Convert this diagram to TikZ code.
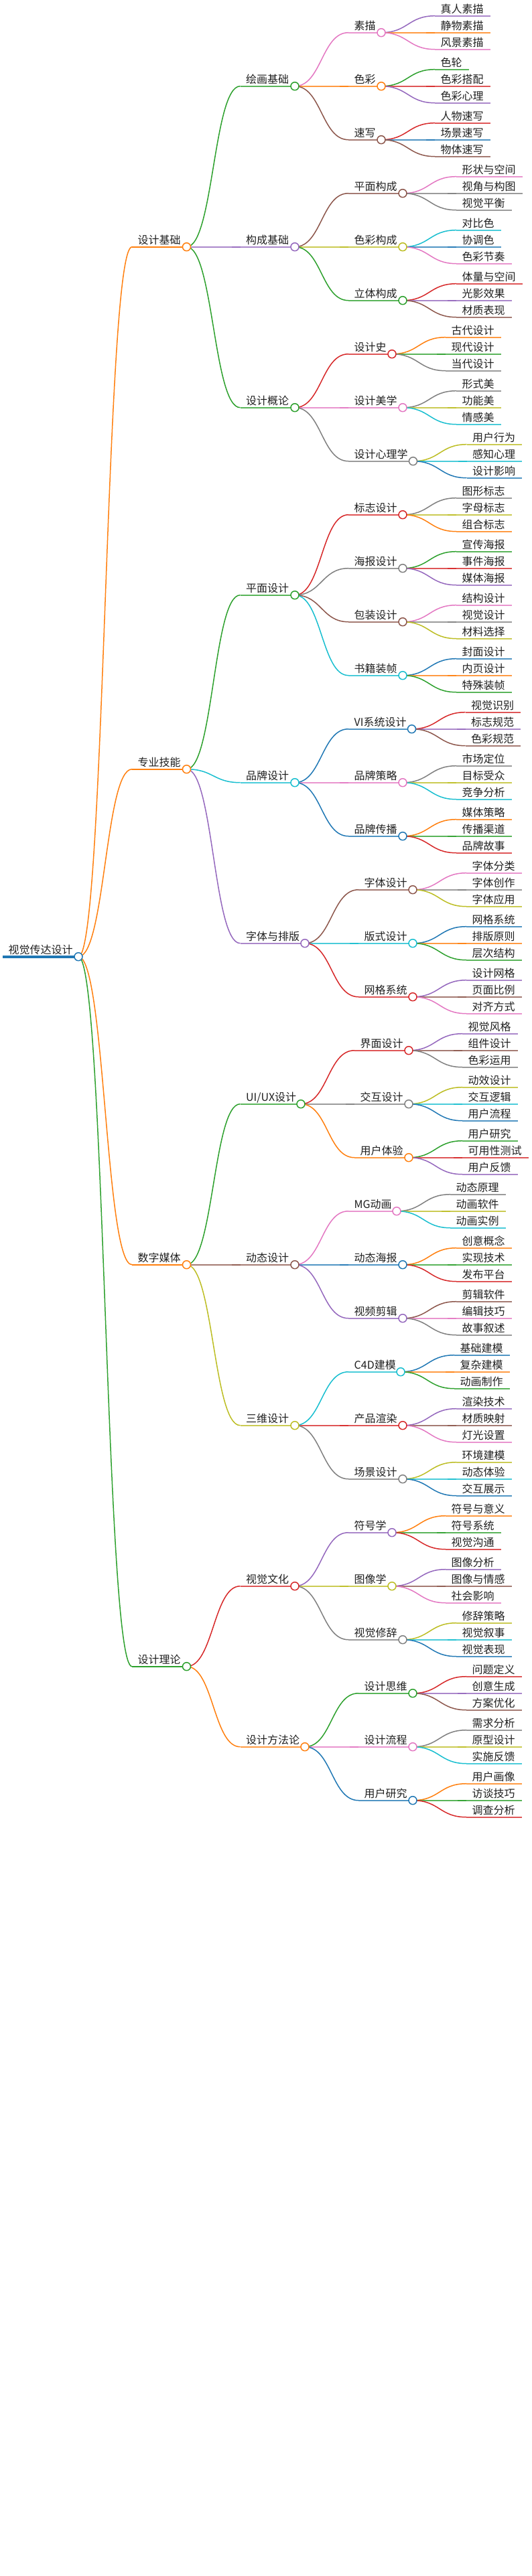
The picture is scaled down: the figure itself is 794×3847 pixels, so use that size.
\documentclass[tikz,border=0pt]{standalone}
\usepackage{fontspec}
\setmainfont{Noto Sans CJK SC}
\usetikzlibrary{calc}
\definecolor{mB}{HTML}{1F77B4}
\definecolor{mO}{HTML}{FF7F0E}
\definecolor{mG}{HTML}{2CA02C}
\definecolor{mR}{HTML}{D62728}
\definecolor{mP}{HTML}{9467BD}
\definecolor{mN}{HTML}{8C564B}
\definecolor{mK}{HTML}{E377C2}
\definecolor{mY}{HTML}{7F7F7F}
\definecolor{mL}{HTML}{BCBD22}
\definecolor{mC}{HTML}{17BECF}
\pgfdeclarelayer{bg}
\pgfsetlayers{bg,main}
\tikzset{
  mmline/.style={line width=1.6pt,opacity=.78},
  mmlineone/.style={line width=1.9pt},
  mmflat/.style={line width=1.6pt,opacity=.78},
  mmlink/.style={line width=1.5pt},
  mmdot/.style={circle,draw,fill=white,minimum size=12pt,inner sep=0pt,outer sep=0pt,line width=1.5pt},
  mmtext/.style={anchor=base west,inner sep=0pt,outer sep=0pt,text=black!88,font=\fontsize{16}{16}\selectfont},
}
\newcommand{\mmbase}[7]{%
  \pgfmathsetmacro{\mmX}{\csname mmE@#3\endcsname+80}%
  \pgfmathsetmacro{\mmEnd}{\mmX+#5}%
  \expandafter\xdef\csname mmE@#2\endcsname{\mmEnd}%
  \expandafter\xdef\csname mmY@#2\endcsname{#4}%
  \coordinate (#2-s) at (\mmX,#4);
  \coordinate (#2-e) at (\mmEnd,#4);
  \coordinate (#2-m) at ($(#3-e)!.5!(#2-s)$);
  \begin{pgfonlayer}{bg}
    \ifdim\csname mmY@#3\endcsname pt=#4pt
      \draw[mmflat,#6] (#3-e) -- (#2-s);
      \draw[mmflat,#6] ($(#2-s)+(-12.7,0)$) -- (#2-s);
    \else
      \draw[mmlink,#6] (#3-e) .. controls (#2-m |- #3-e) and (#2-m |- #2-s) .. (#2-s);
    \fi
    \draw[#1,#6] (#2-s) -- (#2-e);
  \end{pgfonlayer}
  \node[mmtext] (#2) at ($(#2-s)+(8.7,-4)$) {#7};
}
\newcommand{\mmin}[7][mmline]{%
  \mmbase{#1}{#2}{#3}{#4}{#5}{#6}{#7}%
  \node[#6,mmdot] (#2-c) at (#2-e) {};
}
\newcommand{\mmlf}[6]{\mmbase{mmline}{#1}{#2}{#3}{#4}{#5}{#6}}
\begin{document}
\begin{tikzpicture}[x=1pt,y=-1pt]
\useasboundingbox (0,0) rectangle (794,3847);
\expandafter\gdef\csname mmE@R\endcsname{117}
\expandafter\gdef\csname mmY@R\endcsname{1428.7}
\coordinate (R-s) at (4,1428.7);
\coordinate (R-e) at (117,1428.7);
\begin{pgfonlayer}{bg}\draw[mB,line width=4pt] (R-s) -- (R-e);\end{pgfonlayer}
\node[mB,mmdot] (R-c) at (R-e) {};
\node[mmtext] (R) at (12.7,1424.7) {视觉传达设计};
% ---- 设计基础
\mmin[mmlineone]{A}{R}{368.7}{81.5}{mO}{设计基础}
\mmin{AA}{A}{128.7}{81.5}{mG}{绘画基础}
\mmin{AAA}{AA}{48.7}{49}{mK}{素描}
\mmlf{AAAa}{AAA}{23.7}{82.5}{mP}{真人素描}
\mmlf{AAAb}{AAA}{48.7}{82.5}{mO}{静物素描}
\mmlf{AAAc}{AAA}{73.7}{82.5}{mK}{风景素描}
\mmin{AAB}{AA}{128.7}{49}{mO}{色彩}
\mmlf{AABa}{AAB}{103.7}{50.5}{mG}{色轮}
\mmlf{AABb}{AAB}{128.7}{82.5}{mR}{色彩搭配}
\mmlf{AABc}{AAB}{153.7}{82.5}{mP}{色彩心理}
\mmin{AAC}{AA}{208.7}{49}{mN}{速写}
\mmlf{AACa}{AAC}{183.7}{82.5}{mR}{人物速写}
\mmlf{AACb}{AAC}{208.7}{82.5}{mB}{场景速写}
\mmlf{AACc}{AAC}{233.7}{82.5}{mN}{物体速写}
\mmin{AB}{A}{368.7}{81.5}{mP}{构成基础}
\mmin{ABA}{AB}{288.7}{81}{mN}{平面构成}
\mmlf{ABAa}{ABA}{263.7}{98.5}{mK}{形状与空间}
\mmlf{ABAb}{ABA}{288.7}{98.5}{mY}{视角与构图}
\mmlf{ABAc}{ABA}{313.7}{82.5}{mY}{视觉平衡}
\mmin{ABB}{AB}{368.7}{81}{mL}{色彩构成}
\mmlf{ABBa}{ABB}{343.7}{66.5}{mC}{对比色}
\mmlf{ABBb}{ABB}{368.7}{66.5}{mB}{协调色}
\mmlf{ABBc}{ABB}{393.7}{82.5}{mK}{色彩节奏}
\mmin{ABC}{AB}{448.7}{81}{mG}{立体构成}
\mmlf{ABCa}{ABC}{423.7}{98.5}{mR}{体量与空间}
\mmlf{ABCb}{ABC}{448.7}{82.5}{mP}{光影效果}
\mmlf{ABCc}{ABC}{473.7}{82.5}{mN}{材质表现}
\mmin{AC}{A}{608.7}{81.5}{mG}{设计概论}
\mmin{ACA}{AC}{528.7}{65}{mR}{设计史}
\mmlf{ACAa}{ACA}{503.7}{82.5}{mO}{古代设计}
\mmlf{ACAb}{ACA}{528.7}{82.5}{mG}{现代设计}
\mmlf{ACAc}{ACA}{553.7}{82.5}{mY}{当代设计}
\mmin{ACB}{AC}{608.7}{81}{mK}{设计美学}
\mmlf{ACBa}{ACB}{583.7}{66.5}{mY}{形式美}
\mmlf{ACBb}{ACB}{608.7}{66.5}{mL}{功能美}
\mmlf{ACBc}{ACB}{633.7}{66.5}{mC}{情感美}
\mmin{ACC}{AC}{688.7}{96.5}{mY}{设计心理学}
\mmlf{ACCa}{ACC}{663.7}{82.5}{mL}{用户行为}
\mmlf{ACCb}{ACC}{688.7}{82.5}{mC}{感知心理}
\mmlf{ACCc}{ACC}{713.7}{82.5}{mB}{设计影响}
% ---- 专业技能
\mmin[mmlineone]{B}{R}{1148.7}{81.5}{mO}{专业技能}
\mmin{BA}{B}{888.7}{81.5}{mG}{平面设计}
\mmin{BAA}{BA}{768.7}{81}{mR}{标志设计}
\mmlf{BAAa}{BAA}{743.7}{82.5}{mY}{图形标志}
\mmlf{BAAb}{BAA}{768.7}{82.5}{mL}{字母标志}
\mmlf{BAAc}{BAA}{793.7}{82.5}{mO}{组合标志}
\mmin{BAB}{BA}{848.7}{81}{mY}{海报设计}
\mmlf{BABa}{BAB}{823.7}{82.5}{mG}{宣传海报}
\mmlf{BABb}{BAB}{848.7}{82.5}{mR}{事件海报}
\mmlf{BABc}{BAB}{873.7}{82.5}{mP}{媒体海报}
\mmin{BAC}{BA}{928.7}{81}{mN}{包装设计}
\mmlf{BACa}{BAC}{903.7}{82.5}{mK}{结构设计}
\mmlf{BACb}{BAC}{928.7}{82.5}{mY}{视觉设计}
\mmlf{BACc}{BAC}{953.7}{82.5}{mL}{材料选择}
\mmin{BAD}{BA}{1008.7}{81}{mC}{书籍装帧}
\mmlf{BADa}{BAD}{983.7}{82.5}{mB}{封面设计}
\mmlf{BADb}{BAD}{1008.7}{82.5}{mO}{内页设计}
\mmlf{BADc}{BAD}{1033.7}{82.5}{mG}{特殊装帧}
\mmin{BB}{B}{1168.7}{81.5}{mC}{品牌设计}
\mmin{BBA}{BB}{1088.7}{94.5}{mB}{VI系统设计}
\mmlf{BBAa}{BBA}{1063.7}{82.5}{mR}{视觉识别}
\mmlf{BBAb}{BBA}{1088.7}{82.5}{mP}{标志规范}
\mmlf{BBAc}{BBA}{1113.7}{82.5}{mN}{色彩规范}
\mmin{BBB}{BB}{1168.7}{81}{mK}{品牌策略}
\mmlf{BBBa}{BBB}{1143.7}{82.5}{mY}{市场定位}
\mmlf{BBBb}{BBB}{1168.7}{82.5}{mL}{目标受众}
\mmlf{BBBc}{BBB}{1193.7}{82.5}{mC}{竞争分析}
\mmin{BBC}{BB}{1248.7}{81}{mB}{品牌传播}
\mmlf{BBCa}{BBC}{1223.7}{82.5}{mO}{媒体策略}
\mmlf{BBCb}{BBC}{1248.7}{82.5}{mG}{传播渠道}
\mmlf{BBCc}{BBC}{1273.7}{82.5}{mR}{品牌故事}
\mmin{BC}{B}{1408.7}{96.5}{mP}{字体与排版}
\mmin{BCA}{BC}{1328.7}{81}{mN}{字体设计}
\mmlf{BCAa}{BCA}{1303.7}{82.5}{mK}{字体分类}
\mmlf{BCAb}{BCA}{1328.7}{82.5}{mY}{字体创作}
\mmlf{BCAc}{BCA}{1353.7}{82.5}{mL}{字体应用}
\mmin{BCB}{BC}{1408.7}{81}{mC}{版式设计}
\mmlf{BCBa}{BCB}{1383.7}{82.5}{mB}{网格系统}
\mmlf{BCBb}{BCB}{1408.7}{82.5}{mO}{排版原则}
\mmlf{BCBc}{BCB}{1433.7}{82.5}{mG}{层次结构}
\mmin{BCC}{BC}{1488.7}{81}{mR}{网格系统}
\mmlf{BCCa}{BCC}{1463.7}{82.5}{mP}{设计网格}
\mmlf{BCCb}{BCC}{1488.7}{82.5}{mN}{页面比例}
\mmlf{BCCc}{BCC}{1513.7}{82.5}{mK}{对齐方式}
% ---- 数字媒体
\mmin[mmlineone]{C}{R}{1888.7}{81.5}{mO}{数字媒体}
\mmin{CA}{C}{1648.7}{90.5}{mG}{UI/UX设计}
\mmin{CAA}{CA}{1568.7}{81}{mR}{界面设计}
\mmlf{CAAa}{CAA}{1543.7}{82.5}{mP}{视觉风格}
\mmlf{CAAb}{CAA}{1568.7}{82.5}{mN}{组件设计}
\mmlf{CAAc}{CAA}{1593.7}{82.5}{mY}{色彩运用}
\mmin{CAB}{CA}{1648.7}{81}{mY}{交互设计}
\mmlf{CABa}{CAB}{1623.7}{82.5}{mL}{动效设计}
\mmlf{CABb}{CAB}{1648.7}{82.5}{mC}{交互逻辑}
\mmlf{CABc}{CAB}{1673.7}{82.5}{mB}{用户流程}
\mmin{CAC}{CA}{1728.7}{81}{mO}{用户体验}
\mmlf{CACa}{CAC}{1703.7}{82.5}{mG}{用户研究}
\mmlf{CACb}{CAC}{1728.7}{98.5}{mR}{可用性测试}
\mmlf{CACc}{CAC}{1753.7}{82.5}{mP}{用户反馈}
\mmin{CB}{C}{1888.7}{81.5}{mN}{动态设计}
\mmin{CBA}{CB}{1808.7}{72}{mK}{MG动画}
\mmlf{CBAa}{CBA}{1783.7}{82.5}{mY}{动态原理}
\mmlf{CBAb}{CBA}{1808.7}{82.5}{mL}{动画软件}
\mmlf{CBAc}{CBA}{1833.7}{82.5}{mC}{动画实例}
\mmin{CBB}{CB}{1888.7}{81}{mB}{动态海报}
\mmlf{CBBa}{CBB}{1863.7}{82.5}{mO}{创意概念}
\mmlf{CBBb}{CBB}{1888.7}{82.5}{mG}{实现技术}
\mmlf{CBBc}{CBB}{1913.7}{82.5}{mR}{发布平台}
\mmin{CBC}{CB}{1968.7}{81}{mP}{视频剪辑}
\mmlf{CBCa}{CBC}{1943.7}{82.5}{mN}{剪辑软件}
\mmlf{CBCb}{CBC}{1968.7}{82.5}{mK}{编辑技巧}
\mmlf{CBCc}{CBC}{1993.7}{82.5}{mY}{故事叙述}
\mmin{CC}{C}{2128.7}{81.5}{mL}{三维设计}
\mmin{CCA}{CC}{2048.7}{78}{mC}{C4D建模}
\mmlf{CCAa}{CCA}{2023.7}{82.5}{mB}{基础建模}
\mmlf{CCAb}{CCA}{2048.7}{82.5}{mO}{复杂建模}
\mmlf{CCAc}{CCA}{2073.7}{82.5}{mG}{动画制作}
\mmin{CCB}{CC}{2128.7}{81}{mR}{产品渲染}
\mmlf{CCBa}{CCB}{2103.7}{82.5}{mP}{渲染技术}
\mmlf{CCBb}{CCB}{2128.7}{82.5}{mN}{材质映射}
\mmlf{CCBc}{CCB}{2153.7}{82.5}{mK}{灯光设置}
\mmin{CCC}{CC}{2208.7}{81}{mY}{场景设计}
\mmlf{CCCa}{CCC}{2183.7}{82.5}{mL}{环境建模}
\mmlf{CCCb}{CCC}{2208.7}{82.5}{mC}{动态体验}
\mmlf{CCCc}{CCC}{2233.7}{82.5}{mB}{交互展示}
% ---- 设计理论
\mmin[mmlineone]{D}{R}{2488.7}{81.5}{mG}{设计理论}
\mmin{DA}{D}{2368.7}{81.5}{mR}{视觉文化}
\mmin{DAA}{DA}{2288.7}{65}{mP}{符号学}
\mmlf{DAAa}{DAA}{2263.7}{98.5}{mO}{符号与意义}
\mmlf{DAAb}{DAA}{2288.7}{82.5}{mG}{符号系统}
\mmlf{DAAc}{DAA}{2313.7}{82.5}{mR}{视觉沟通}
\mmin{DAB}{DA}{2368.7}{65}{mL}{图像学}
\mmlf{DABa}{DAB}{2343.7}{82.5}{mP}{图像分析}
\mmlf{DABb}{DAB}{2368.7}{98.5}{mN}{图像与情感}
\mmlf{DABc}{DAB}{2393.7}{82.5}{mK}{社会影响}
\mmin{DAC}{DA}{2448.7}{81}{mY}{视觉修辞}
\mmlf{DACa}{DAC}{2423.7}{82.5}{mL}{修辞策略}
\mmlf{DACb}{DAC}{2448.7}{82.5}{mC}{视觉叙事}
\mmlf{DACc}{DAC}{2473.7}{82.5}{mB}{视觉表现}
\mmin{DB}{D}{2608.7}{96.5}{mO}{设计方法论}
\mmin{DBA}{DB}{2528.7}{81}{mG}{设计思维}
\mmlf{DBAa}{DBA}{2503.7}{82.5}{mR}{问题定义}
\mmlf{DBAb}{DBA}{2528.7}{82.5}{mP}{创意生成}
\mmlf{DBAc}{DBA}{2553.7}{82.5}{mN}{方案优化}
\mmin{DBB}{DB}{2608.7}{81}{mK}{设计流程}
\mmlf{DBBa}{DBB}{2583.7}{82.5}{mY}{需求分析}
\mmlf{DBBb}{DBB}{2608.7}{82.5}{mL}{原型设计}
\mmlf{DBBc}{DBB}{2633.7}{82.5}{mC}{实施反馈}
\mmin{DBC}{DB}{2688.7}{81}{mB}{用户研究}
\mmlf{DBCa}{DBC}{2663.7}{82.5}{mO}{用户画像}
\mmlf{DBCb}{DBC}{2688.7}{82.5}{mG}{访谈技巧}
\mmlf{DBCc}{DBC}{2713.7}{82.5}{mR}{调查分析}
\end{tikzpicture}
\end{document}
